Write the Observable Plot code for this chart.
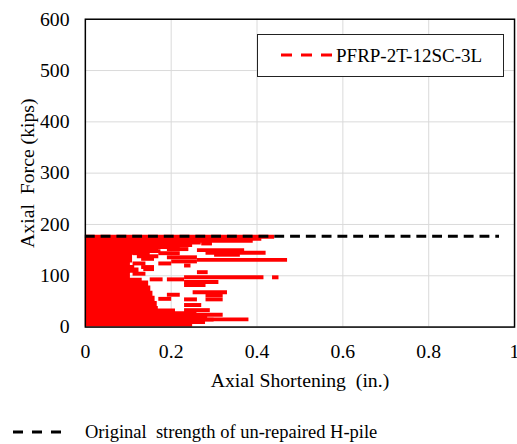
<!DOCTYPE html>
<html>
<head>
<meta charset="utf-8">
<script src="https://cdn.jsdelivr.net/npm/d3@7"></script>
<script src="https://cdn.jsdelivr.net/npm/@observablehq/plot@0.6"></script>
<style>
  html, body { margin: 0; padding: 0; background: #fff; overflow: hidden; }
  #wrap { position: relative; width: 517px; height: 444px; overflow: hidden; }
  #wrap svg text { white-space: pre; }
  .legend-in { position: absolute; left: 257px; top: 34px; width: 247px; height: 43px;
    box-sizing: border-box; border: 1.5px solid #222; background: #fff; }
  .legend-in svg, .legend-bot svg { position: absolute; left: 0; top: 0; }
  .legend-bot { position: absolute; left: 0; top: 416px; width: 517px; height: 28px; }
</style>
</head>
<body>
<div id="wrap"></div>
<script>
// ---- data ----
const xTicks = [0, 0.2, 0.4, 0.6, 0.8, 1];
const yTicks = [0, 100, 200, 300, 400, 500, 600];
const xTitle = "Axial Shortening  (in.)";
const yTitle = "Axial  Force (kips)";
const seriesName = "PFRP-2T-12SC-3L";
const refName = "Original  strength of un-repaired H-pile";

// original strength of un-repaired H-pile (kips) and extent of the reference line (in.)
const strengthForce = [177];
const strengthFrom = [0];
const strengthTo = [0.965];

// dense core of the hysteresis record: force (kips) -> reach of shortening (in.)
const coreForce = [0, 5, 10, 17, 25, 30, 35, 40, 50, 60, 70, 80, 90, 95, 100, 105, 110, 115,
  120, 125, 130, 135, 140, 145, 150, 152, 155, 160, 165, 170, 174];
const coreReach = [0.24, 0.26, 0.30, 0.30, 0.27, 0.25, 0.17, 0.17, 0.165, 0.16, 0.155, 0.15,
  0.145, 0.12, 0.09, 0.12, 0.13, 0.12, 0.11, 0.10, 0.12, 0.10, 0.12, 0.11, 0.12, 0.18, 0.24,
  0.26, 0.28, 0.30, 0.28];

// individual loading strokes: force (kips), start and end shortening (in.)
const segForce = [176, 172, 168, 163, 156, 152, 152, 150, 148, 145, 144, 144, 141, 138, 136, 133,
  131, 128, 124, 124, 120, 117, 113, 107, 104, 97, 97, 93, 93, 88, 82, 68, 63, 62, 55, 54, 54, 43,
  33, 24, 15];
const segStart = [0.0, 0.0, 0.20, 0.27, 0.12, 0.10, 0.19, 0.26, 0.095, 0.28, 0.11, 0.17, 0.30,
  0.12, 0.19, 0.13, 0.26, 0.20, 0.11, 0.17, 0.23, 0.13, 0.135, 0.26, 0.11, 0.23, 0.435, 0.15,
  0.19, 0.23, 0.23, 0.25, 0.19, 0.28, 0.17, 0.23, 0.28, 0.23, 0.23, 0.23, 0.20];
const segEnd = [0.44, 0.41, 0.39, 0.295, 0.22, 0.17, 0.24, 0.37, 0.175, 0.42, 0.15, 0.22, 0.36,
  0.17, 0.26, 0.16, 0.47, 0.26, 0.14, 0.20, 0.245, 0.16, 0.16, 0.285, 0.14, 0.415, 0.45, 0.18,
  0.23, 0.31, 0.28, 0.33, 0.22, 0.32, 0.20, 0.26, 0.32, 0.27, 0.29, 0.32, 0.38];

// ---- tables ----
const core = coreForce.map((f, i) => ({f, x: coreReach[i]}));
const segs = segForce.map((f, i) => ({f, x0: segStart[i], x1: segEnd[i]}));
const strength = strengthForce.map((f, i) => ({f, x0: strengthFrom[i], x1: strengthTo[i]}));

const font = "'Liberation Serif', 'Times New Roman', serif";

const chart = Plot.plot({
  width: 524,
  height: 400,
  marginLeft: 86,
  marginRight: 3,
  marginTop: 19,
  marginBottom: 69,
  style: {fontFamily: font, fontSize: "20px", color: "#000", background: "#fff"},
  x: {domain: [0, 1]},
  y: {domain: [0, 600]},
  marks: [
    Plot.gridX(xTicks, {stroke: "#d9d9d9", strokeOpacity: 1, strokeWidth: 1}),
    Plot.gridY(yTicks, {stroke: "#d9d9d9", strokeOpacity: 1, strokeWidth: 1}),
    Plot.areaX(core, {x: "x", y: "f", fill: "#ff0000", curve: "step"}),
    Plot.link(segs, {x1: "x0", x2: "x1", y1: "f", y2: "f", stroke: "#ff0000", strokeWidth: 4}),
    Plot.ruleY(strength, {y: "f", x1: "x0", x2: "x1", stroke: "#000", strokeWidth: 3, strokeDasharray: "10,6"}),
    Plot.frame({stroke: "#000", strokeWidth: 1.5}),
    Plot.axisX(xTicks, {tickSize: 0, tickPadding: 17, label: null, tickFormat: d => String(d), fontSize: 20}),
    Plot.axisY(yTicks, {tickSize: 0, tickPadding: 16, label: null, tickFormat: d => String(d), fontSize: 20}),
    Plot.text([xTitle], {frameAnchor: "bottom", dy: 54, lineAnchor: "middle", textAnchor: "middle", fontSize: 20, text: d => d}),
    Plot.text([yTitle], {frameAnchor: "left", dx: -58, rotate: -90, textAnchor: "middle", lineAnchor: "middle", fontSize: 20, text: d => d})
  ]
});
const wrap = document.getElementById("wrap");
wrap.appendChild(chart);

// inner legend
const lg = document.createElement("div");
lg.className = "legend-in";
lg.innerHTML = `<svg width="245" height="41">
  <line x1="23" x2="75" y1="20" y2="20" stroke="#ff0000" stroke-width="3" stroke-dasharray="11,9"></line>
  <text x="78" y="27" font-family="${font}" font-size="19" fill="#000">${seriesName}</text>
</svg>`;
wrap.appendChild(lg);

// bottom legend
const lb = document.createElement("div");
lb.className = "legend-bot";
lb.innerHTML = `<svg width="517" height="28">
  <line x1="13" x2="63" y1="16" y2="16" stroke="#000" stroke-width="3" stroke-dasharray="10,9"></line>
  <text x="85" y="22" font-family="${font}" font-size="18.5" fill="#000" style="white-space:pre">${refName}</text>
</svg>`;
wrap.appendChild(lb);
</script>
</body>
</html>
